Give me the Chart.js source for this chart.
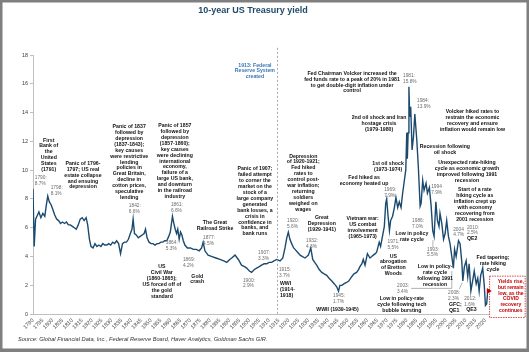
<!DOCTYPE html>
<html>
<head>
<meta charset="utf-8">
<script src="https://cdn.jsdelivr.net/npm/chart.js@4.4.0/dist/chart.umd.min.js"></script>
<style>
  html, body { margin: 0; padding: 0; background: #fff; }
  canvas { display: block; }
</style>
</head>
<body>
<canvas id="yieldChart" width="529" height="352"></canvas>
<script>
// 10-year yield (year as it sits on the axis)
const years = [
  1790.0, 1790.6, 1791.3, 1792.0, 1793.0, 1794.0, 1795.0, 1796.0, 1796.7, 1797.5,
  1798.3, 1799.2, 1800.0, 1801.0, 1802.0, 1803.0, 1804.0, 1805.0, 1806.0, 1807.0,
  1808.0, 1809.0, 1810.0, 1811.0, 1812.0, 1813.0, 1814.0, 1815.0, 1816.0, 1817.0,
  1817.8, 1818.7, 1819.5, 1820.5, 1821.5, 1822.5, 1823.5, 1824.5, 1825.5, 1826.5,
  1827.5, 1828.5, 1829.5, 1830.5, 1831.5, 1832.5, 1833.5, 1834.5, 1835.5, 1836.5,
  1837.5, 1838.5, 1839.5, 1840.3, 1840.9, 1841.6, 1842.5, 1843.5, 1844.5, 1845.5,
  1846.5, 1847.2, 1848.0, 1849.0, 1850.0, 1851.0, 1852.0, 1853.0, 1854.0, 1855.0,
  1856.0, 1857.0, 1858.0, 1859.0, 1859.8, 1860.9, 1861.6, 1862.3, 1863.0, 1863.6,
  1864.3, 1865.0, 1865.7, 1866.4, 1867.2, 1868.5, 1870.0, 1871.5, 1873.0, 1874.5,
  1875.7, 1876.5, 1877.4, 1879.0, 1881.0, 1883.0, 1885.0, 1887.0, 1888.5, 1890.0,
  1891.0, 1892.7, 1894.4, 1896.0, 1897.5, 1898.6, 1900.0, 1901.1, 1902.5, 1903.7,
  1905.0, 1906.2, 1907.5, 1908.8, 1910.0, 1911.3, 1912.5, 1913.9, 1915.6, 1917.0,
  1918.1, 1919.0, 1919.8, 1920.6, 1921.5, 1922.5, 1923.2, 1924.5, 1925.8, 1927.0,
  1928.3, 1929.2, 1930.0, 1931.2, 1932.2, 1933.2, 1934.2, 1935.5, 1936.8, 1938.0,
  1939.3, 1940.5, 1941.9, 1943.2, 1944.4, 1945.3, 1946.0, 1947.0, 1948.0, 1949.4,
  1950.5, 1952.0, 1953.2, 1954.5, 1955.5, 1956.2, 1957.2, 1957.9, 1958.8, 1960.0,
  1961.3, 1962.2, 1963.0, 1964.0, 1964.7, 1966.0, 1966.7, 1967.8, 1968.6, 1969.3,
  1969.8, 1970.5, 1971.2, 1971.8, 1972.8, 1973.7, 1974.5, 1975.4, 1976.2, 1977.1,
  1977.9, 1978.8, 1979.5, 1980.0, 1980.3, 1980.7, 1981.1, 1981.5, 1982.0, 1982.7,
  1983.4, 1984.1, 1985.1, 1985.9, 1986.8, 1987.3, 1988.1, 1988.8, 1989.8, 1990.5,
  1991.5, 1992.4, 1993.2, 1993.9, 1994.8, 1995.6, 1996.4, 1996.9, 1997.8, 1998.7,
  1999.5, 2000.3, 2001.2, 2002.0, 2002.9, 2003.7, 2004.3, 2005.1, 2006.3, 2007.1,
  2008.0, 2008.5, 2009.3, 2010.2, 2011.0, 2011.7, 2012.6, 2013.6, 2014.3, 2015.3,
  2016.1, 2016.8, 2017.6, 2018.6, 2019.4, 2020.0, 2020.6, 2021.2
]
const yields = [
  8.7, 4.7, 6.6, 6.8, 7.1, 6.7, 7.0, 6.8, 7.5, 8.2,
  7.8, 7.6, 7.3, 6.9, 6.6, 6.5, 6.3, 6.4, 6.3, 6.4,
  6.2, 6.2, 6.1, 6.0, 5.9, 6.2, 6.6, 6.7, 6.5, 6.7,
  6.2, 5.2, 4.7, 4.6, 4.9, 4.7, 4.8, 4.7, 4.9, 4.8,
  4.8, 4.9, 4.8, 5.0, 4.9, 5.1, 4.9, 4.2, 4.9, 5.0,
  5.0, 5.2, 5.6, 5.9, 6.6, 5.6, 5.5, 5.3, 5.4, 5.5,
  5.6, 5.9, 5.3, 5.0, 4.9, 4.9, 4.8, 4.9, 4.9, 5.0,
  5.0, 5.1, 5.1, 5.4, 5.7, 6.8, 6.3, 5.9, 5.6, 5.9,
  5.2, 5.7, 5.5, 5.1, 4.8, 4.6, 4.6, 4.5, 4.5, 4.4,
  4.6, 5.0, 4.4, 4.1, 4.0, 3.9, 3.8, 3.7, 3.6, 3.8,
  3.9, 4.1, 3.8, 3.4, 3.3, 3.2, 3.0, 2.9, 3.1, 3.2,
  3.3, 3.4, 3.5, 3.5, 3.6, 3.6, 3.7, 3.8, 3.7, 3.9,
  4.6, 5.3, 5.7, 5.2, 4.9, 4.6, 4.5, 4.3, 4.1, 4.0,
  3.9, 4.0, 4.1, 4.6, 3.8, 3.6, 3.4, 3.1, 2.9, 2.8,
  2.7, 2.5, 2.3, 2.1, 1.9, 1.6, 2.0, 2.0, 2.1, 2.2,
  2.3, 2.6, 2.8, 2.9, 3.1, 3.3, 3.5, 3.8, 3.4, 4.2,
  3.9, 4.0, 4.1, 4.2, 4.3, 5.0, 4.7, 5.5, 6.1, 7.7,
  8.0, 6.8, 5.8, 6.5, 6.8, 7.4, 8.1, 7.4, 7.8, 7.4,
  8.4, 9.3, 10.0, 12.6, 10.8, 12.6, 15.8, 13.7, 14.4, 11.4,
  12.3, 13.9, 12.1, 10.2, 7.5, 7.7, 9.3, 8.6, 9.1, 8.4,
  8.8, 7.5, 5.8, 5.4, 7.8, 6.5, 6.1, 7.0, 6.3, 5.2,
  5.6, 6.5, 5.4, 4.9, 4.0, 3.2, 4.5, 4.0, 5.1, 4.9,
  3.6, 2.3, 3.3, 3.7, 2.6, 3.5, 1.6, 2.4, 3.0, 2.1,
  2.5, 1.6, 2.7, 3.2, 2.0, 0.6, 0.7, 1.6
]

const tickYears = [
  1790, 1795, 1800, 1805, 1810, 1815, 1820, 1825, 1830, 1835, 1840, 1845,
  1850, 1855, 1860, 1865, 1870, 1875, 1880, 1885, 1890, 1895, 1900, 1905,
  1910, 1915, 1920, 1925, 1930, 1935, 1940, 1945, 1950, 1955, 1960, 1965,
  1970, 1975, 1980, 1985, 1990, 1995, 2000, 2005, 2010, 2015, 2020
]
const yTicks = [0, 2, 4, 6, 8, 10, 12, 14, 16, 18]

const fedYear = 1913.9

// text notes, placed at (year, yield) so they follow the scales
const notes = [
  { k: 'b', at: [1798.0, 12.09], t: ['First', 'Bank of', 'the', 'United', 'States', '(1791)'] },
  { k: 'v', at: [1790.9, 9.45], t: ['1790:', '8.7%'] },
  { k: 'v', at: [1799.0, 8.76], t: ['1798:', '8.1%'] },
  { k: 'b', at: [1815.4, 10.47], t: ['Panic of 1796-', '1797; US real', 'estate collapse', 'and ensuing', 'depression'] },
  { k: 'b', at: [1838.9, 13.02], t: ['Panic of 1837', 'followed by', 'depression', '(1837-1843);', 'key causes', 'were restrictive', 'lending', 'policies in', 'Great Britain,', 'decline in', 'cotton prices,', 'speculative', 'lending'] },
  { k: 'v', at: [1838.7, 7.53], t: ['1842:', '6.6%'] },
  { k: 'b', at: [1862.1, 13.09], t: ['Panic of 1857', 'followed by', 'depression', '(1857-1860);', 'key causes', 'were declining', 'international', 'economy,', 'failure of a', 'large US bank,', 'and downturn', 'in the railroad', 'industry'] },
  { k: 'v', at: [1860.1, 7.57], t: ['1861:', '6.6%'] },
  { k: 'v', at: [1857.5, 4.93], t: ['1864:', '5.3%'] },
  { k: 'b', at: [1855.5, 3.29], t: ['US', 'Civil War', '(1860-1865);', 'US forced off of', 'the gold', 'standard'] },
  { k: 'v', at: [1866.2, 3.75], t: ['1869:', '4.2%'] },
  { k: 'b', at: [1873.5, 2.64], t: ['Gold', 'crash'] },
  { k: 'b', at: [1882.5, 6.37], t: ['The Great', 'Railroad Strike'] },
  { k: 'v', at: [1876.4, 5.33], t: ['1877:', '4.5%'] },
  { k: 'b', at: [1902.8, 10.08], t: ['Panic of 1907;', 'failed attempt', 'to corner the', 'market on the', 'stock of a', 'large company', 'generated', 'bank losses, a', 'crisis in', 'confidence in', 'banks, and', 'bank runs'] },
  { k: 'v', at: [1904.4, 4.26], t: ['1907:', '3.3%'] },
  { k: 'v', at: [1896.7, 2.36], t: ['1900:', '2.9%'] },
  { k: 'blue', at: [1902.8, 17.3], t: ['1913: Federal', 'Reserve System', 'created'] },
  { k: 'v', at: [1915.0, 3.06], t: ['1915:', '3.7%'] },
  { k: 'bl', at: [1915.5, 2.15], t: ['WWI', '(1914-', '1918)'] },
  { k: 'v', at: [1919.1, 6.48], t: ['1920:', '5.6%'] },
  { k: 'b', at: [1927.4, 10.98], t: ['Depression', 'of 1920-1921;', 'Fed hiked', 'rates to', 'control post-', 'war inflation;', 'returning', 'soldiers', 'weighed on', 'wages'] },
  { k: 'b', at: [1936.8, 6.72], t: ['Great', 'Depression', '(1929-1941)'] },
  { k: 'v', at: [1928.8, 5.09], t: ['1932:', '4.3%'] },
  { k: 'v', at: [1942.5, 1.25], t: ['1945:', '1.7%'] },
  { k: 'b', at: [1944.8, 0.35], t: ['WWII (1939-1945)'] },
  { k: 'b', at: [1957.6, 6.65], t: ['Vietnam war:', 'US combat', 'involvement', '(1965-1973)'] },
  { k: 'b', at: [1958.3, 9.47], t: ['Fed hiked as', 'economy heated up'] },
  { k: 'b', at: [1970.5, 10.47], t: ['1st oil shock', '(1973-1974)'] },
  { k: 'v', at: [1968.5, 8.62], t: ['1969:', '7.9%'] },
  { k: 'b', at: [1965.9, 13.63], t: ['2nd oil shock and Iran', 'hostage crisis', '(1979-1980)'] },
  { k: 'b', at: [1952.2, 16.73], t: ['Fed Chairman Volcker increased the', 'fed funds rate to a peak of 20% in 1981', 'to get double-digit inflation under', 'control'] },
  { k: 'v', at: [1978.1, 16.56], t: ['1981:', '15.8%'] },
  { k: 'v', at: [1985.2, 14.82], t: ['1984:', '13.9%'] },
  { k: 'b', at: [2013.4, 14.06], t: ['Volcker hiked rates to', 'restrain the economic', 'recovery and ensure', 'inflation would remain low'] },
  { k: 'b', at: [1999.4, 11.63], t: ['Recession following', 'oil shock'] },
  { k: 'b', at: [2010.6, 10.54], t: ['Unexpected rate-hiking', 'cycle as economic growth', 'improved following 1991', 'recession'] },
  { k: 'v', at: [1992.4, 8.85], t: ['1994', '7.9%'] },
  { k: 'b', at: [2014.6, 8.62], t: ['Start of a rate', 'hiking cycle as', 'inflation crept up', 'with economy', 'recovering from', '2001 recession'] },
  { k: 'v', at: [1982.7, 6.48], t: ['1986:', '7.0%'] },
  { k: 'b', at: [1982.6, 5.61], t: ['Low in policy', 'rate cycle'] },
  { k: 'v', at: [1990.3, 4.5], t: ['1993:', '5.5%'] },
  { k: 'b', at: [1973.2, 4.03], t: ['US', 'abrogation', 'of Bretton', 'Woods'] },
  { k: 'v', at: [1970.2, 5.02], t: ['1971:', '5.5%'] },
  { k: 'b', at: [1994.4, 3.29], t: ['Low in policy-', 'rate cycle', 'following 1991', 'recession'] },
  { k: 'v', at: [1975.1, 1.95], t: ['2003:', '3.4%'] },
  { k: 'b', at: [1977.5, 1.09], t: ['Low in policy-rate', 'cycle following tech', 'bubble bursting'] },
  { k: 'v', at: [2003.6, 5.89], t: ['2004', '4.7%'] },
  { k: 'v', at: [2010.6, 6.03], t: ['2010:', '2.5%'] },
  { k: 'bl', at: [2010.6, 5.26], t: ['QE2'] },
  { k: 'v', at: [2001.0, 1.48], t: ['2008:', '2.3%'] },
  { k: 'bl', at: [2001.5, 0.69], t: ['GFC;', 'QE1'] },
  { k: 'v', at: [2009.2, 1.09], t: ['2012:', '1.6%'] },
  { k: 'bl', at: [2010.2, 0.33], t: ['QE3'] },
  { k: 'b', at: [2023.8, 3.94], t: ['Fed tapering;', 'rate hiking', 'cycle'] },
  { k: 'red', at: [2032.9, 2.24], t: ['Yields rise,', 'but remain', 'low, as the', 'COVID', 'recovery', 'continues'] }
]

// leader lines from labels to the line, in (year, yield)
const leaders = [
  [[1993.3, 5.14], [1993.3, 4.66]],
  [[1982.2, 1.79], [2002.9, 1.79], [2002.9, 3.0]],
  [[2006.7, 1.75], [2008.2, 2.2]]
]
const covidBox = [[2022.1, 2.64], [2040.2, -0.23]]

const FONT = '"Liberation Sans", Arial, sans-serif'
const noteStyle = {
  b: { font: 'bold 5.2px ' + FONT, color: '#111', align: 'center', lh: 5.9 },
  bl: { font: 'bold 5.2px ' + FONT, color: '#111', align: 'left', lh: 6.4 },
  v: { font: '4.8px ' + FONT, color: '#6b6b6b', align: 'left', lh: 5.8 },
  blue: { font: 'bold 5.2px ' + FONT, color: '#3a78b8', align: 'center', lh: 5.9 },
  red: { font: 'bold 5px ' + FONT, color: '#c00000', align: 'center', lh: 5.7 }
}

const decorPlugin = {
  id: 'decor',
  beforeDraw(chart) {
    const ctx = chart.ctx
    ctx.save()
    ctx.fillStyle = '#fff'
    ctx.fillRect(0, 0, chart.width, chart.height)
    ctx.restore()
  },
  afterDraw(chart) {
    const { ctx, scales: { x, y } } = chart
    const px = v => x.getPixelForValue(v)
    const py = v => y.getPixelForValue(v)
    ctx.save()

    // 1913 Fed line
    ctx.strokeStyle = '#a6a6a6'
    ctx.lineWidth = 1
    ctx.setLineDash([2, 2])
    ctx.beginPath()
    ctx.moveTo(Math.round(px(fedYear)) + 0.5, py(18.5))
    ctx.lineTo(Math.round(px(fedYear)) + 0.5, py(0))
    ctx.stroke()
    ctx.setLineDash([])

    // leaders
    ctx.strokeStyle = '#7f7f7f'
    ctx.lineWidth = 0.6
    leaders.forEach(seg => {
      ctx.beginPath()
      seg.forEach((p, i) => i ? ctx.lineTo(px(p[0]), py(p[1])) : ctx.moveTo(px(p[0]), py(p[1])))
      ctx.stroke()
    })

    // covid box
    const bx0 = px(covidBox[0][0]), by0 = py(covidBox[0][1])
    const bx1 = px(covidBox[1][0]), by1 = py(covidBox[1][1])
    ctx.fillStyle = '#fff'
    ctx.fillRect(bx0, by0, bx1 - bx0, by1 - by0)
    ctx.strokeStyle = '#c00000'
    ctx.lineWidth = 0.7
    ctx.setLineDash([1.5, 1])
    ctx.strokeRect(bx0, by0, bx1 - bx0, by1 - by0)
    ctx.setLineDash([])

    // red marker on the latest reading
    const last = years.length - 1
    const lx = px(years[last]), ly = py(yields[last])
    ctx.fillStyle = '#c00000'
    ctx.beginPath()
    ctx.moveTo(lx + 4, ly)
    ctx.lineTo(lx - 1, ly - 3)
    ctx.lineTo(lx - 1, ly + 3)
    ctx.closePath()
    ctx.fill()

    // notes
    ctx.textBaseline = 'middle'
    notes.forEach(n => {
      const st = noteStyle[n.k]
      ctx.font = st.font
      ctx.fillStyle = st.color
      ctx.textAlign = st.align
      const nx = px(n.at[0]), ny = py(n.at[1])
      n.t.forEach((line, i) => ctx.fillText(line, nx, ny + i * st.lh))
    })

    // grey frame of the original screenshot
    ctx.fillStyle = '#7f7f7f'
    ctx.fillRect(0, 0, chart.width, 2.5)
    ctx.fillRect(0, 0, 2.5, chart.height)
    ctx.fillRect(chart.width - 2.5, 0, 2.5, chart.height)
    ctx.fillRect(0, chart.height - 3.5, chart.width, 3.5)
    ctx.restore()
  }
}

const yieldChart = new Chart(document.getElementById('yieldChart'), {
  type: 'line',
  data: {
    datasets: [{
      data: years.map((yr, i) => ({ x: yr, y: yields[i] })),
      borderColor: '#1b4a6f',
      borderWidth: 1.4,
      pointRadius: 0,
      tension: 0,
      fill: false
    }]
  },
  options: {
    responsive: false,
    animation: false,
    devicePixelRatio: 1,
    layout: { padding: { left: 18, right: 41, top: 5, bottom: 9 } },
    plugins: {
      legend: { display: false },
      tooltip: { enabled: false },
      title: {
        display: true,
        text: '10-year US Treasury yield',
        color: '#1f4a68',
        font: { family: FONT, size: 9, weight: 'bold' },
        padding: { top: 0.5, bottom: 38.7 }
      },
      subtitle: {
        display: true,
        position: 'bottom',
        align: 'start',
        text: 'Source: Global Financial Data, Inc., Federal Reserve Board, Haver Analytics, Goldman Sachs GIR.',
        color: '#333',
        font: { family: FONT, size: 5.7, style: 'italic' },
        padding: { top: 0, bottom: 0 }
      }
    },
    scales: {
      x: {
        type: 'linear',
        min: 1790,
        max: 2021.3,
        afterBuildTicks: s => { s.ticks = tickYears.map(v => ({ value: v })) },
        afterFit: s => { s.height = 22 },
        ticks: {
          autoSkip: false,
          minRotation: 45,
          maxRotation: 45,
          padding: 3,
          color: '#404040',
          font: { family: FONT, size: 5.5 },
          callback: v => String(v)
        },
        grid: { display: false, drawTicks: false },
        border: { display: true, color: '#bfbfbf', width: 1 }
      },
      y: {
        min: 0,
        max: 18,
        afterBuildTicks: s => { s.ticks = yTicks.map(v => ({ value: v })) },
        afterFit: s => { s.width = 15 },
        ticks: {
          padding: 2,
          color: '#404040',
          font: { family: FONT, size: 5.5 }
        },
        grid: { drawOnChartArea: false, drawTicks: true, tickLength: 3, color: '#bfbfbf' },
        border: { display: true, color: '#bfbfbf', width: 1 }
      }
    }
  },
  plugins: [decorPlugin]
})
</script>
</body>
</html>
